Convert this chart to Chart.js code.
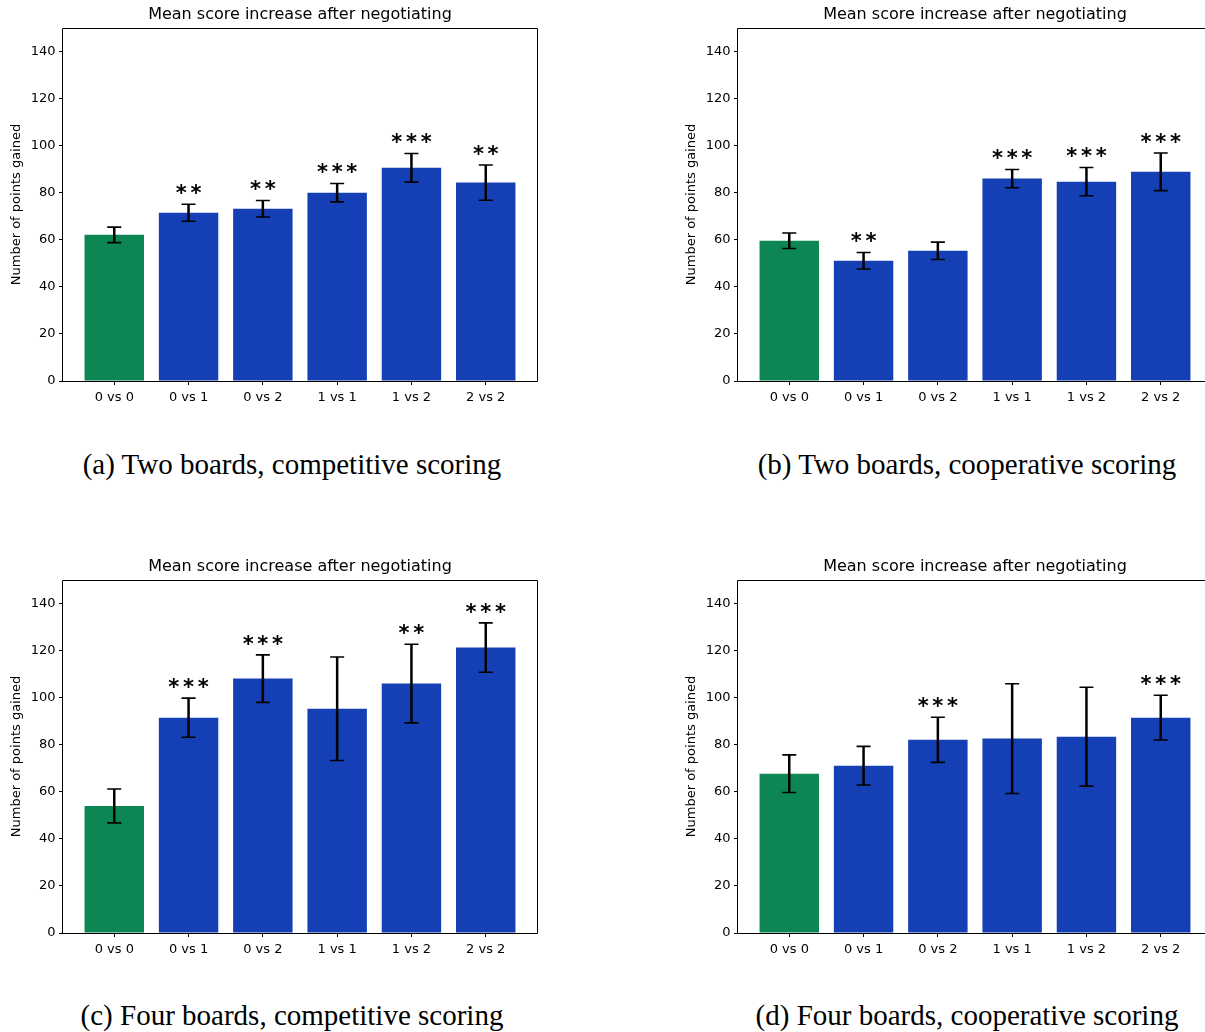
<!DOCTYPE html>
<html>
<head>
<meta charset="utf-8">
<script src="https://cdn.jsdelivr.net/npm/chart.js@4.4.1/dist/chart.umd.min.js"></script>
<style>
  html, body { margin: 0; padding: 0; overflow: hidden; background: #fff; width: 1205px; height: 1032px; }
  .panel { position: absolute; width: 600px; height: 420px; }
  .panel canvas { display: block; }
  .cap { position: absolute; font-family: "Liberation Serif", "DejaVu Serif", serif; font-size: 29px;
         line-height: 30px; color: #000; white-space: nowrap; transform: translateX(-50%); }
</style>
</head>
<body>
<div class="panel" style="left:0px;top:0px"><canvas id="cA" width="600" height="420"></canvas></div>
<div class="panel" style="left:675px;top:0px"><canvas id="cB" width="600" height="420"></canvas></div>
<div class="panel" style="left:0px;top:552px"><canvas id="cC" width="600" height="420"></canvas></div>
<div class="panel" style="left:675px;top:552px"><canvas id="cD" width="600" height="420"></canvas></div>

<div class="cap" style="left:292px;top:449px">(a) Two boards, competitive scoring</div>
<div class="cap" style="left:967px;top:449px">(b) Two boards, cooperative scoring</div>
<div class="cap" style="left:292px;top:1000px">(c) Four boards, competitive scoring</div>
<div class="cap" style="left:967px;top:1000px">(d) Four boards, cooperative scoring</div>

<script>
// Matchups shown on every panel
const categories = ['0 vs 0', '0 vs 1', '0 vs 2', '1 vs 1', '1 vs 2', '2 vs 2'];
const yTicks = [0, 20, 40, 60, 80, 100, 120, 140];
const yMax = 150;

const chartTitle = 'Mean score increase after negotiating';
const yAxisLabel = 'Number of points gained';

// (a) Two boards, competitive scoring
const meansA = [62.1, 71.5, 73.2, 80.0, 90.6, 84.3];
const errA   = [3.3, 3.6, 3.5, 3.9, 6.1, 7.5];
const starsA = [0, 2, 2, 3, 3, 2];

// (b) Two boards, cooperative scoring
const meansB = [59.6, 51.1, 55.3, 86.0, 84.7, 88.9];
const errB   = [3.3, 3.5, 3.7, 3.9, 6.0, 8.0];
const starsB = [0, 2, 0, 3, 3, 3];

// (c) Four boards, competitive scoring
const meansC = [54.0, 91.5, 108.1, 95.3, 106.0, 121.3];
const errC   = [7.2, 8.3, 10.1, 22.0, 16.7, 10.5];
const starsC = [0, 3, 3, 0, 2, 3];

// (d) Four boards, cooperative scoring
const meansD = [67.7, 71.1, 82.1, 82.6, 83.4, 91.5];
const errD   = [8.0, 8.2, 9.6, 23.3, 21.0, 9.5];
const starsD = [0, 0, 3, 0, 0, 3];

const baselineColor = '#0c8754';
const treatColor = '#1540b5';

// Title over the plot area, error bars, significance stars and the full axes frame
const extrasPlugin = {
  id: 'extras',
  afterDatasetsDraw(chart) {
    const { ctx, scales: { x, y }, chartArea } = chart;
    const opts = chart.options.plugins.extras;
    ctx.save();
    ctx.strokeStyle = '#000';
    ctx.fillStyle = '#000';

    ctx.font = '16px "DejaVu Sans"';
    ctx.textAlign = 'center';
    ctx.textBaseline = 'middle';
    ctx.fillText(chartTitle, (chartArea.left + chartArea.right) / 2, chartArea.top - 13);

    opts.means.forEach((m, i) => {
      const e = opts.errs[i];
      const px = x.getPixelForValue(i);
      const yTop = y.getPixelForValue(m + e);
      const yBot = y.getPixelForValue(m - e);
      ctx.lineWidth = 2.5;
      ctx.beginPath();
      ctx.moveTo(px, yTop);
      ctx.lineTo(px, yBot);
      ctx.stroke();
      ctx.lineWidth = 1.6;
      ctx.beginPath();
      ctx.moveTo(px - 7, yTop); ctx.lineTo(px + 7, yTop);
      ctx.moveTo(px - 7, yBot); ctx.lineTo(px + 7, yBot);
      ctx.stroke();

      const n = opts.stars[i];
      if (n > 0) {
        ctx.font = 'bold 21px "DejaVu Sans"';
        ctx.textAlign = 'center';
        ctx.textBaseline = 'alphabetic';
        const mt = ctx.measureText('*');
        const cy = y.getPixelForValue(m + e + 6.4);
        const shift = (mt.actualBoundingBoxAscent - mt.actualBoundingBoxDescent) / 2;
        for (let k = 0; k < n; k++) {
          const sx = px + (k - (n - 1) / 2) * 14.7;
          ctx.fillText('*', sx, cy + shift);
        }
      }
    });
    ctx.restore();
  },
  afterDraw(chart) {
    const { ctx, chartArea: { left, right, top, bottom } } = chart;
    ctx.save();
    ctx.strokeStyle = '#000';
    ctx.lineWidth = 1;
    const l = Math.round(left) - 0.5, t = Math.round(top) + 0.5;
    const r = Math.round(right) + 0.5, b = Math.round(bottom) + 0.5;
    ctx.beginPath();
    ctx.moveTo(l, b); ctx.lineTo(l, t); ctx.lineTo(r, t); ctx.lineTo(r, b); ctx.lineTo(l, b);
    ctx.stroke();
    ctx.restore();
  }
};

function makePanel(id, means, errs, stars) {
  new Chart(document.getElementById(id), {
    type: 'bar',
    data: {
      datasets: [{
        data: means.map((v, i) => ({ x: i, y: v })),
        backgroundColor: categories.map((c, i) => i === 0 ? baselineColor : treatColor),
        borderWidth: 0,
        categoryPercentage: 1.0,
        barPercentage: 0.8
      }]
    },
    options: {
      responsive: false,
      animation: false,
      devicePixelRatio: 1,
      layout: { padding: { left: 0, right: 63, top: 28, bottom: 0 } },
      plugins: {
        legend: { display: false },
        tooltip: { enabled: false },
        title: { display: false },
        extras: { means, errs, stars }
      },
      scales: {
        x: {
          type: 'linear',
          min: -0.69,
          max: 5.69,
          offset: false,
          afterBuildTicks(scale) { scale.ticks = categories.map((c, i) => ({ value: i })); },
          afterFit(scale) { scale.height = 39; },
          ticks: {
            autoSkip: false,
            maxRotation: 0,
            color: '#000',
            padding: 5,
            font: { family: 'DejaVu Sans', size: 13 },
            callback: (v) => categories[v]
          },
          grid: { offset: false, drawOnChartArea: false, drawTicks: true, tickLength: 4, tickColor: '#000' },
          border: { display: false }
        },
        y: {
          min: 0,
          max: yMax,
          afterBuildTicks(scale) { scale.ticks = yTicks.map(v => ({ value: v })); },
          afterFit(scale) { scale.width = 63; },
          ticks: {
            color: '#000',
            padding: 3.5,
            font: { family: 'DejaVu Sans', size: 13 }
          },
          grid: { offset: false, drawOnChartArea: false, drawTicks: true, tickLength: 4, tickColor: '#000' },
          border: { display: false },
          title: {
            display: true,
            text: yAxisLabel,
            color: '#000',
            font: { family: 'DejaVu Sans', size: 13 },
            padding: { top: 9, bottom: 0 }
          }
        }
      }
    },
    plugins: [extrasPlugin]
  });
}

makePanel('cA', meansA, errA, starsA);
makePanel('cB', meansB, errB, starsB);
makePanel('cC', meansC, errC, starsC);
makePanel('cD', meansD, errD, starsD);
</script>
</body>
</html>
